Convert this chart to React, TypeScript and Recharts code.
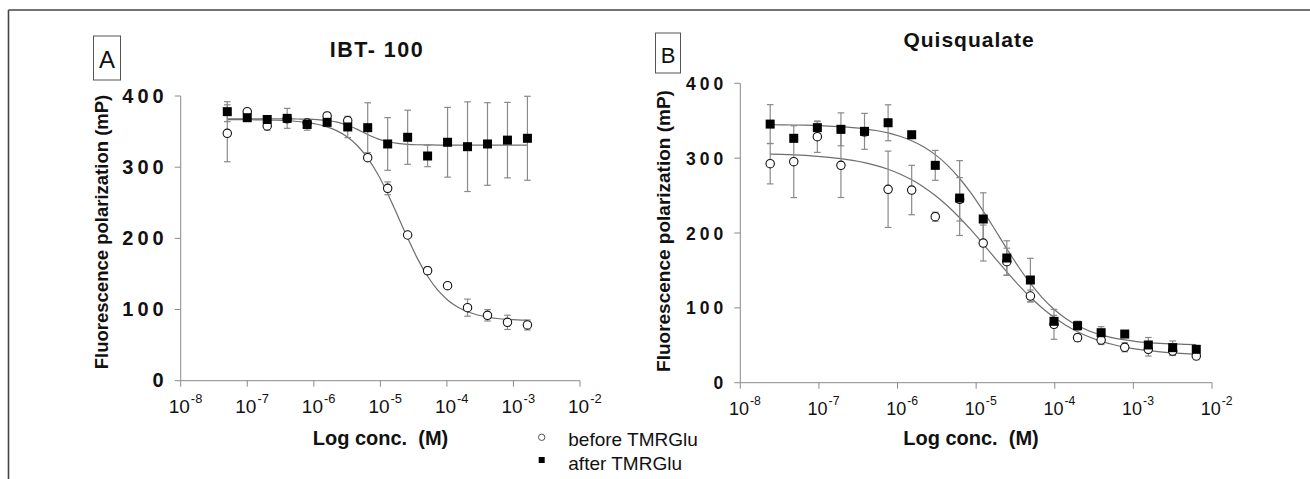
import React from 'react'
import { ComposedChart, Scatter, Line, XAxis, YAxis, ErrorBar } from 'recharts'

const FONT = '"Liberation Sans", Arial, sans-serif'

// x values are log10 of the concentration (M)
const concA = [-7.30, -7.00, -6.70, -6.40, -6.10, -5.80, -5.49, -5.19, -4.89, -4.59, -4.29, -3.99, -3.69, -3.39, -3.09, -2.79]
const beforeA = [347.6, 378, 358, 368, 362, 372, 365.3, 313.3, 270.3, 204.7, 154.6, 133.5, 102.6, 91.9, 82, 78.3]
const beforeErrA = [40, 3, 6, 4, 4, 5, 4, 3, 9, 3, 5, 3, 12, 8, 10, 7]
const afterA = [378, 369.5, 367, 368.6, 360, 363, 356.5, 355.5, 332.6, 342, 315.7, 335, 328.8, 332.6, 338, 340.6]
const afterErrA = [14, 4, 5, 14, 8, 6, 15, 35, 37, 38, 15, 49, 63, 58, 53, 59]

// fitted curves
const fitXA = [-7.30, -7.15, -7.00, -6.85, -6.70, -6.55, -6.40, -6.25, -6.10, -5.95, -5.80, -5.65, -5.49, -5.34, -5.19, -5.04, -4.89, -4.74, -4.59, -4.44, -4.29, -4.14, -3.99, -3.84, -3.69, -3.54, -3.39, -3.24, -3.09, -2.94, -2.79]
const fitBeforeA = [366.9, 366.8, 366.7, 366.5, 366.3, 365.9, 365.2, 364.2, 362.7, 360.3, 356.6, 351.0, 342.0, 329.7, 312.6, 290.3, 262.8, 231.9, 200.4, 171.2, 146.7, 127.5, 113.4, 103.5, 96.8, 92.3, 89.3, 87.4, 86.2, 85.4, 84.9]
const fitAfterA = [368, 368, 368, 368, 368, 367.9, 367.9, 367.7, 367.5, 366.9, 365.6, 363.3, 358.9, 352.8, 345.8, 339.8, 335.7, 333.4, 332.1, 331.5, 331.3, 331.1, 331, 331, 331, 331, 331, 331, 331, 331, 331]

const concB = [-7.62, -7.32, -7.02, -6.72, -6.42, -6.12, -5.82, -5.52, -5.21, -4.91, -4.61, -4.31, -4.01, -3.71, -3.41, -3.11, -2.81, -2.50, -2.20]
const beforeB = [292.6, 295.3, 328.7, 290.4, 335, 258.4, 257.4, 221.8, 245, 186.6, 161.7, 115.8, 78, 60.1, 57, 47.3, 44.6, 42.3, 35.7]
const beforeErrB = [27, 48, 21, 43, 5, 51, 33, 6, 29, 24, 18, 8, 20, 5, 6, 6, 9, 6, 5]
const afterB = [345.5, 326.5, 340.7, 338.5, 335.8, 347.3, 331.3, 290.4, 246.7, 218.7, 166.6, 137.2, 82, 76.2, 66.8, 65, 50.4, 46.8, 44.6]
const afterErrB = [26, 5, 8, 22, 24, 24, 0, 20, 50, 35, 23, 29, 8, 6, 8, 0, 10, 9, 5]

const fitXB = [-7.62, -7.47, -7.32, -7.17, -7.02, -6.87, -6.72, -6.57, -6.42, -6.27, -6.12, -5.97, -5.82, -5.67, -5.52, -5.37, -5.21, -5.06, -4.91, -4.76, -4.61, -4.46, -4.31, -4.16, -4.01, -3.86, -3.71, -3.56, -3.41, -3.26, -3.11, -2.96, -2.81, -2.66, -2.50, -2.35, -2.20]
const fitBeforeB = [305.5, 305.0, 304.4, 303.6, 302.5, 301.1, 299.3, 297.0, 294.0, 290.1, 285.1, 278.8, 271.1, 261.6, 250.1, 236.7, 220.4, 203.4, 185.2, 166.5, 148.0, 130.4, 114.2, 99.8, 87.3, 76.8, 68.1, 61.0, 55.4, 51.0, 47.5, 44.9, 42.8, 41.2, 39.9, 38.9, 38.2]
const fitAfterB = [344.6, 344.5, 344.3, 344.0, 343.5, 342.9, 342.1, 340.9, 339.2, 336.9, 333.7, 329.3, 323.3, 315.3, 304.7, 291.0, 272.8, 252.5, 229.2, 204.3, 178.9, 154.6, 132.6, 113.7, 98.1, 85.8, 76.3, 69.1, 63.8, 59.9, 57.1, 55.0, 53.6, 52.5, 51.8, 51.3, 50.9]

const xTicks = [-8, -7, -6, -5, -4, -3, -2]
const yTicks = [0, 100, 200, 300, 400]

const pts = (xs: number[], ys: number[], errs?: number[]) =>
  xs.map((x, i) => ({ x, y: ys[i], err: errs ? errs[i] : 0 }))

const OpenCircle = (p: any) => (
  <circle cx={p.cx} cy={p.cy} r={4.2} fill="#fff" stroke="#111" strokeWidth={1.1} />
)
const FilledSquare = (p: any) => (
  <rect x={p.cx - 4.5} y={p.cy - 4.5} width={9} height={9} fill="#000" />
)

function makeXTick(size: number) {
  return (p: any) => (
    <text x={p.x - size * 0.63} y={p.y + 26.5} fontFamily={FONT} fontSize={size} fill="#111">
      10
      <tspan dx={1} dy={-size * 0.55} fontSize={size * 0.68}>{String(p.payload.value)}</tspan>
    </text>
  )
}

function makeYTick(size: number) {
  return (p: any) => (
    <text x={p.x - 7} y={p.y + 6.5} textAnchor="end" fontFamily={FONT} fontSize={size}
      fontWeight="bold" letterSpacing={4} fill="#111">
      {p.payload.value}
    </text>
  )
}

type PanelProps = {
  left: number
  margin: { top: number; left: number; right: number; bottom: number }
  before: any[]
  after: any[]
  fitBefore: any[]
  fitAfter: any[]
  xSize: number
  ySize: number
}

function Panel({ left, margin, before, after, fitBefore, fitAfter, xSize, ySize }: PanelProps) {
  return (
    <div style={{ position: 'absolute', left, top: 0 }}>
      <ComposedChart width={640} height={479} margin={margin}>
        <XAxis type="number" dataKey="x" domain={[-8, -2]} ticks={xTicks} interval={0}
          allowDataOverflow height={40} tickSize={6} tickMargin={0} stroke="#8a8a8a"
          tick={makeXTick(xSize)} />
        <YAxis type="number" dataKey="y" domain={[0, 400]} ticks={yTicks} interval={0}
          width={60} tickSize={6} tickMargin={0} stroke="#8a8a8a" tick={makeYTick(ySize)} />
        <Line data={fitBefore} dataKey="y" type="monotone" stroke="#6e6e6e" strokeWidth={1.2}
          dot={false} isAnimationActive={false} />
        <Line data={fitAfter} dataKey="y" type="monotone" stroke="#6e6e6e" strokeWidth={1.2}
          dot={false} isAnimationActive={false} />
        <Scatter data={before} shape={OpenCircle} isAnimationActive={false}>
          <ErrorBar dataKey="err" direction="y" width={3.3} stroke="#8a8a8a" strokeWidth={1.2} />
        </Scatter>
        <Scatter data={after} shape={FilledSquare} isAnimationActive={false}>
          <ErrorBar dataKey="err" direction="y" width={3.3} stroke="#8a8a8a" strokeWidth={1.2} />
        </Scatter>
      </ComposedChart>
    </div>
  )
}

export default function App() {
  return (
    <div style={{ position: 'absolute', left: 0, top: 0, width: 1310, height: 479, background: '#fff', overflow: 'hidden' }}>
      <Panel
        left={0}
        margin={{ top: 96, left: 120.7, right: 60, bottom: 58.3 }}
        before={pts(concA, beforeA, beforeErrA)}
        after={pts(concA, afterA, afterErrA)}
        fitBefore={pts(fitXA, fitBeforeA)}
        fitAfter={pts(fitXA, fitAfterA)}
        xSize={19}
        ySize={20}
      />
      <Panel
        left={640}
        margin={{ top: 83.3, left: 40.3, right: 68, bottom: 56.3 }}
        before={pts(concB, beforeB, beforeErrB)}
        after={pts(concB, afterB, afterErrB)}
        fitBefore={pts(fitXB, fitBeforeB)}
        fitAfter={pts(fitXB, fitAfterB)}
        xSize={18}
        ySize={17.5}
      />
      <svg width={1310} height={479} style={{ position: 'absolute', left: 0, top: 0, pointerEvents: 'none' }}
        fontFamily={FONT} fill="#111">
        {/* outer frame */}
        <line x1={8.5} y1={10} x2={1310} y2={10} stroke="#444" strokeWidth={1.6} />
        <line x1={8.5} y1={10} x2={8.5} y2={479} stroke="#444" strokeWidth={1.6} />

        {/* panel letters */}
        <rect x={93.5} y={36} width={27} height={44} fill="#fff" stroke="#555" strokeWidth={1} />
        <text x={107} y={68} textAnchor="middle" fontSize={24}>A</text>
        <rect x={655.5} y={33} width={25} height={40} fill="#fff" stroke="#555" strokeWidth={1} />
        <text x={668} y={62.5} textAnchor="middle" fontSize={22}>B</text>

        {/* titles */}
        <text x={377} y={57} textAnchor="middle" fontSize={21.5} fontWeight="bold" letterSpacing={1.5}
          style={{ whiteSpace: 'pre' }}>IBT- 100</text>
        <text x={969} y={47} textAnchor="middle" fontSize={21} fontWeight="bold" letterSpacing={1}>Quisqualate</text>

        {/* y-axis titles */}
        <text transform="translate(108,232) rotate(-90)" textAnchor="middle" fontSize={18.5} fontWeight="bold">
          Fluorescence polarization (mP)
        </text>
        <text transform="translate(670,231) rotate(-90)" textAnchor="middle" fontSize={19} fontWeight="bold">
          Fluorescence polarization (mP)
        </text>

        {/* x-axis titles */}
        <text x={380.5} y={445} textAnchor="middle" fontSize={20} fontWeight="bold"
          style={{ whiteSpace: 'pre' }}>
          {'Log conc.  (M)'}
        </text>
        <text x={971} y={445} textAnchor="middle" fontSize={20} fontWeight="bold"
          style={{ whiteSpace: 'pre' }}>
          {'Log conc.  (M)'}
        </text>

        {/* legend */}
        <circle cx={541.7} cy={437.3} r={3.2} fill="#fff" stroke="#555" strokeWidth={1} />
        <text x={568.3} y={446} fontSize={19}>before TMRGlu</text>
        <rect x={538.7} y={457} width={6} height={6} fill="#000" />
        <text x={568.3} y={469.5} fontSize={19}>after TMRGlu</text>
      </svg>
    </div>
  )
}
